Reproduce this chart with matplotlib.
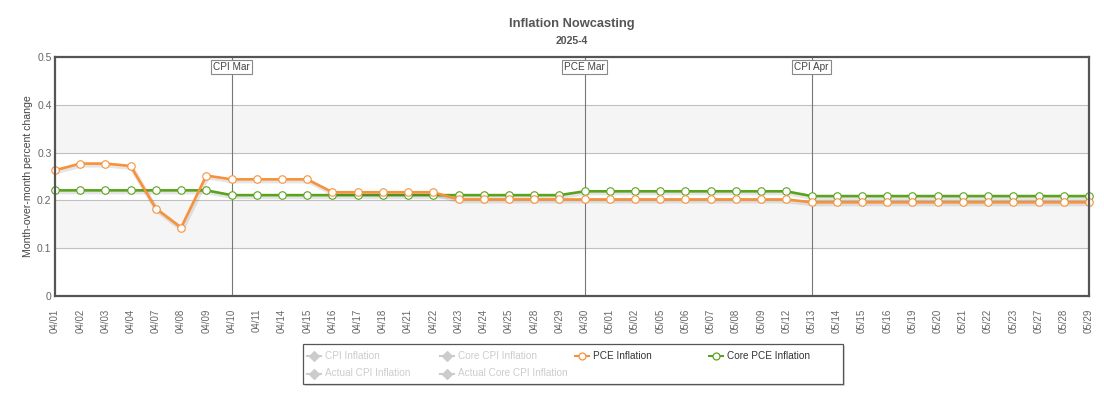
import matplotlib
matplotlib.use("Agg")
import matplotlib.pyplot as plt
import matplotlib.patheffects as pe
from matplotlib.lines import Line2D
from matplotlib.patches import Rectangle

plt.rcParams['font.family'] = ['Liberation Sans', 'DejaVu Sans']

dates = ["04/01", "04/02", "04/03", "04/04", "04/07", "04/08", "04/09", "04/10",
         "04/11", "04/14", "04/15", "04/16", "04/17", "04/18", "04/21", "04/22",
         "04/23", "04/24", "04/25", "04/28", "04/29", "04/30", "05/01", "05/02",
         "05/05", "05/06", "05/07", "05/08", "05/09", "05/12", "05/13", "05/14",
         "05/15", "05/16", "05/19", "05/20", "05/21", "05/22", "05/23", "05/27",
         "05/28", "05/29"]

pce = [0.263, 0.277, 0.277, 0.272, 0.183, 0.143, 0.252, 0.244, 0.244, 0.244,
       0.244, 0.217, 0.217, 0.217, 0.217, 0.217,
       0.202, 0.202, 0.202, 0.202, 0.202, 0.202, 0.202, 0.202, 0.202, 0.202,
       0.202, 0.202, 0.202, 0.202,
       0.196, 0.196, 0.196, 0.196, 0.196, 0.196, 0.196, 0.196, 0.196, 0.196,
       0.196, 0.196]

core_pce = [0.221, 0.221, 0.221, 0.221, 0.221, 0.221, 0.221,
            0.211, 0.211, 0.211, 0.211, 0.211, 0.211, 0.211, 0.211, 0.211,
            0.211, 0.211, 0.211, 0.211, 0.211,
            0.219, 0.219, 0.219, 0.219, 0.219, 0.219, 0.219, 0.219, 0.219,
            0.209, 0.209, 0.209, 0.209, 0.209, 0.209, 0.209, 0.209, 0.209,
            0.209, 0.209, 0.209]

releases = ["04/10", "04/30", "05/13"]
release_labels = ["CPI Mar", "PCE Mar", "CPI Apr"]

yticks = [0, 0.1, 0.2, 0.3, 0.4, 0.5]
ytick_labels = ["0", "0.1", "0.2", "0.3", "0.4", "0.5"]

legend_labels = ["CPI Inflation", "Core CPI Inflation", "PCE Inflation", "Core PCE Inflation",
                 "Actual CPI Inflation", "Actual Core CPI Inflation"]

ORANGE = "#f7923a"
GREEN = "#5ba31f"
HIDDEN = "#cccccc"

W, H = 1104, 400
fig = plt.figure(figsize=(W / 100, H / 100), dpi=100)
ax = fig.add_axes([55 / W, 1 - 296 / H, 1034 / W, 239 / H])

x = list(range(len(dates)))

# alternate bands and grid
ax.axhspan(0.1, 0.2, color="#f5f5f5", zorder=0, lw=0)
ax.axhspan(0.3, 0.4, color="#f5f5f5", zorder=0, lw=0)
for yv in yticks[1:-1]:
    ax.axhline(yv, color="#c0c0c0", lw=0.8, zorder=1)

# release lines
for d, lab in zip(releases, release_labels):
    xi = dates.index(d)
    ax.axvline(xi, color="#777777", lw=0.8, zorder=2)
    ax.annotate(lab, xy=(xi, 1), xycoords=("data", "axes fraction"),
                xytext=(0, -3.5), textcoords="offset points",
                ha="center", va="top", fontsize=7.2, color="#444444", zorder=6,
                bbox=dict(boxstyle="square,pad=0.22", fc="white", ec="#888888", lw=0.8))

shadow = [pe.SimpleLineShadow(offset=(0.8, -1.2), shadow_color="black", alpha=0.10, linewidth=3.4),
          pe.Normal()]

ax.plot(x, core_pce, color=GREEN, lw=1.9, zorder=3, clip_on=False, path_effects=shadow,
        solid_joinstyle="round")
ax.plot(x, pce, color=ORANGE, lw=1.9, zorder=3, clip_on=False, path_effects=shadow,
        solid_joinstyle="round")
ax.plot(x, core_pce, ls="none", marker="o", ms=5.4, mfc="white", mec=GREEN, mew=0.8,
        zorder=4, clip_on=False)
ax.plot(x, pce, ls="none", marker="o", ms=5.4, mfc="white", mec=ORANGE, mew=0.8,
        zorder=4, clip_on=False)

ax.set_xlim(0, len(dates) - 1)
ax.set_ylim(0, 0.5)
ax.set_yticks(yticks)
ax.set_yticklabels(ytick_labels)
ax.set_xticks(x)
ax.set_xticklabels(dates, rotation=90)
ax.tick_params(axis="x", length=0, pad=9, labelsize=7, labelcolor="#666666")
ax.tick_params(axis="y", length=0, pad=2.5, labelsize=7.5, labelcolor="#666666")
for lab in ax.get_xticklabels():
    lab.set_va("top")
    lab.set_ha("center")
for sp in ax.spines.values():
    sp.set_color("#555555")
    sp.set_linewidth(1.6)
    sp.set_zorder(5)

ax.set_ylabel("Month-over-month percent change", fontsize=7.6, color="#444444")
ax.yaxis.set_label_coords((33 - 55) / 1034, 0.5)

# titles
fig.text(572 / W, 1 - 24 / H, "Inflation Nowcasting", ha="center", va="center",
         fontsize=9.3, fontweight="bold", color="#555555")
fig.text(572 / W, 1 - 41 / H, "2025-4", ha="center", va="center",
         fontsize=7.6, fontweight="bold", color="#555555")

# legend box
def fx(px):
    return px / W

def fy(py):
    return 1 - py / H

fig.patches.append(Rectangle((fx(305), fy(386)), (843 - 303) / W, (384 - 344) / H,
                             transform=fig.transFigure, fc="#d8d8d8", ec="none", zorder=1))
fig.patches.append(Rectangle((fx(303), fy(384)), (843 - 303) / W, (384 - 344) / H,
                             transform=fig.transFigure, fc="white", ec="#555555", lw=0.9, zorder=2))

marker_x = [314, 447, 582, 716, 314, 447]
row_y = [356, 356, 356, 356, 373.5, 373.5]
styles = [(HIDDEN, "D", HIDDEN, HIDDEN), (HIDDEN, "D", HIDDEN, HIDDEN),
          (ORANGE, "o", "white", "#333333"), (GREEN, "o", "white", "#333333"),
          (HIDDEN, "D", HIDDEN, HIDDEN), (HIDDEN, "D", HIDDEN, HIDDEN)]
for lab, mx, ry, (col, mk, mfc, tcol) in zip(legend_labels, marker_x, row_y, styles):
    fig.add_artist(Line2D([fx(mx - 7), fx(mx + 7)], [fy(ry), fy(ry)], transform=fig.transFigure,
                          color=col, lw=1.5, zorder=3))
    fig.add_artist(Line2D([fx(mx)], [fy(ry)], transform=fig.transFigure, ls="none",
                          marker=mk, ms=5.0 if mk == "o" else 4.6, mfc=mfc, mec=col, mew=0.9,
                          zorder=4))
    fig.text(fx(mx + 11), fy(ry), lab, ha="left", va="center", fontsize=7.2, color=tcol, zorder=5)

fig.savefig("out.png", dpi=100)
